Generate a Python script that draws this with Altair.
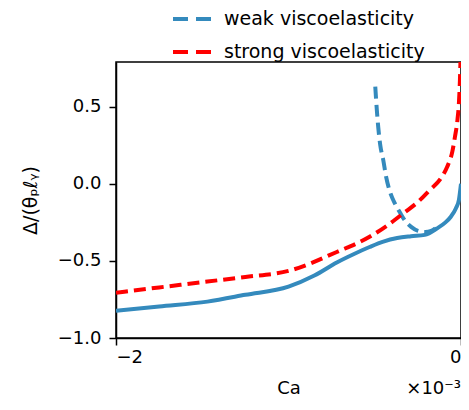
import altair as alt
import pandas as pd

# Ca in units of 1e-3
solid_x = [-2.0, -1.75, -1.47, -1.25, -1.0, -0.85, -0.72, -0.62, -0.53, -0.45, -0.37, -0.29, -0.21, -0.14, -0.09, -0.06, -0.03, -0.012, 0.0]
solid_y = [-0.823, -0.795, -0.764, -0.72, -0.667, -0.595, -0.51, -0.455, -0.41, -0.375, -0.352, -0.34, -0.331, -0.29, -0.25, -0.215, -0.16, -0.104, 0.0]

weak_x = [-0.497, -0.488, -0.480, -0.468, -0.451, -0.434, -0.410, -0.382, -0.353, -0.324, -0.289, -0.249, -0.208, -0.173, -0.145]
weak_y = [0.63, 0.48, 0.37, 0.25, 0.156, 0.045, -0.058, -0.13, -0.188, -0.24, -0.279, -0.305, -0.312, -0.305, -0.285]

strong_x = [-2.0, -1.75, -1.47, -1.25, -1.0, -0.72, -0.53, -0.43, -0.33, -0.25, -0.18, -0.12, -0.08, -0.05, -0.035, -0.02, -0.012, -0.006, -0.003]
strong_y = [-0.706, -0.672, -0.634, -0.604, -0.565, -0.442, -0.344, -0.272, -0.188, -0.118, -0.039, 0.03, 0.11, 0.21, 0.305, 0.42, 0.526, 0.68, 0.8]

series_names = ["weak viscoelasticity", "strong viscoelasticity"]
colors = ["#348ABD", "#FF0000"]

W, H = 345, 276
FS = 18
FONT = "DejaVu Sans"

solid_df = pd.DataFrame({"x": solid_x, "y": solid_y})
dash_df = pd.concat([
    pd.DataFrame({"x": weak_x, "y": weak_y, "s": series_names[0]}),
    pd.DataFrame({"x": strong_x, "y": strong_y, "s": series_names[1]}),
])

xs = alt.Scale(domain=[-2, 0], nice=False, zero=False)
ys = alt.Scale(domain=[-1, 0.79], nice=False, zero=False)

xaxis = alt.Axis(values=[-2, -1, 0], format="d", title="Ca", grid=False,
                 labelFontSize=FS, titleFontSize=FS, labelPadding=3, titlePadding=13,
                 titleFontWeight="normal")
yaxis = alt.Axis(values=[-1, -0.5, 0, 0.5], format=".1f", title="Δ/(θₚℓᵧ)", grid=False,
                 labelFontSize=FS, titleFontSize=FS + 1, labelPadding=8, titlePadding=17,
                 titleFontWeight="normal")

solid = alt.Chart(solid_df).mark_line(color=colors[0], strokeWidth=4, clip=True,
                                      interpolate="monotone").encode(
    x=alt.X("x:Q", scale=xs, axis=xaxis),
    y=alt.Y("y:Q", scale=ys, axis=yaxis),
)

dashed = alt.Chart(dash_df).mark_line(strokeWidth=4, strokeDash=[12, 6], clip=True,
                                      interpolate="monotone").encode(
    x=alt.X("x:Q", scale=xs),
    y=alt.Y("y:Q", scale=ys),
    color=alt.Color("s:N", scale=alt.Scale(domain=series_names, range=colors),
                    legend=alt.Legend(title=None, orient="none", legendX=55, legendY=-66,
                                      symbolType="stroke", symbolDash=[15, 8],
                                      symbolStrokeWidth=4, symbolSize=1764,
                                      labelFontSize=FS + 1, labelOffset=7, rowPadding=0,
                                      labelLimit=400, padding=0)),
    detail="s:N",
)

offset = alt.Chart(pd.DataFrame({"t": ["×10⁻³"]})).mark_text(
    align="right", baseline="alphabetic", fontSize=FS, font=FONT
).encode(text="t:N", x=alt.value(W), y=alt.value(H + 56))

chart = alt.layer(solid, dashed, offset).properties(
    width=W, height=H,
    autosize=alt.AutoSizeParams(type="none"),
    padding={"left": 108, "top": 54, "right": 0, "bottom": 64},
).configure(font=FONT).configure_axis(
    domainColor="black", domainWidth=1.5, tickColor="black", tickWidth=1.5, tickSize=7,
    labelColor="black", titleColor="black", labelFont=FONT, titleFont=FONT,
).configure_view(stroke="black", strokeWidth=1.5).configure_legend(
    labelColor="black", labelFont=FONT
)

chart.save("out.html", embed_options={"renderer": "svg", "actions": False})
